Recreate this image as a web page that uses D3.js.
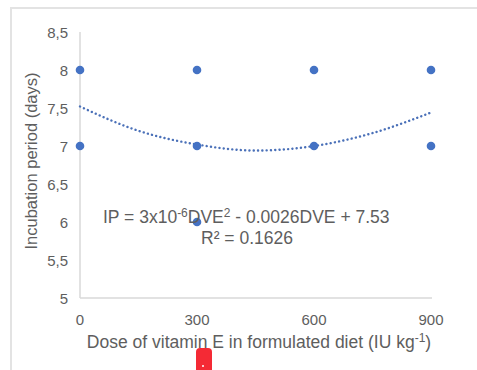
<!DOCTYPE html>
<html>
<head>
  <meta charset="utf-8">
  <script src="https://d3js.org/d3.v7.min.js"></script>
  <title>Incubation period vs vitamin E</title>
  <style>
    body { margin: 0; background: #fff; }
    text { font-family: "Liberation Sans", Arial, sans-serif; fill: #5e5e5e; }
  </style>
</head>
<body>
<div class="chart"></div>
<script>
  // observed points (dose, days)
  var doses = [0, 0, 300, 300, 300, 600, 600, 900, 900];
  var days = [8, 7, 8, 7, 6, 8, 7, 8, 7];

  // polynomial trend line as drawn
  var trendDose = [0, 150, 300, 450, 600, 750, 900];
  var trendDays = [7.52, 7.2, 7.02, 6.94, 7.0, 7.17, 7.44];

  var xTicks = [0, 300, 600, 900];
  var yTicks = [5, 5.5, 6, 6.5, 7, 7.5, 8, 8.5];

  var width = 477, height = 370;

  var svg = d3.select('.chart')
    .append('svg')
    .attr('width', width)
    .attr('height', height);

  // outer frame
  svg.append('path')
    .attr('d', 'M11,' + height + ' V8 H' + width)
    .attr('fill', 'none')
    .attr('stroke', '#e3e3e3')
    .attr('stroke-width', 2);

  var x = d3.scaleLinear().domain([0, 900]).range([80, 431]);
  var y = d3.scaleLinear().domain([5, 8.5]).range([298, 32]);

  // axis lines
  svg.append('line')
    .attr('x1', x(0)).attr('x2', x(0))
    .attr('y1', y(8.5)).attr('y2', y(5))
    .attr('stroke', '#d9d9d9').attr('stroke-width', 1.5);
  svg.append('line')
    .attr('x1', x(0)).attr('x2', x(900) + 1)
    .attr('y1', y(5)).attr('y2', y(5))
    .attr('stroke', '#d9d9d9').attr('stroke-width', 1.5);

  // tick labels
  svg.selectAll('.ytick')
    .data(yTicks)
    .enter()
    .append('text')
    .attr('class', 'ytick')
    .attr('x', 68)
    .attr('y', function(d) { return y(d) + 5.5; })
    .attr('text-anchor', 'end')
    .attr('font-size', 15)
    .text(function(d) { return String(d).replace('.', ','); });

  svg.selectAll('.xtick')
    .data(xTicks)
    .enter()
    .append('text')
    .attr('class', 'xtick')
    .attr('x', function(d) { return x(d); })
    .attr('y', 325)
    .attr('text-anchor', 'middle')
    .attr('font-size', 15)
    .text(function(d) { return d; });

  // axis titles
  var xt = svg.append('text')
    .attr('x', 259)
    .attr('y', 348)
    .attr('text-anchor', 'middle')
    .attr('font-size', 17.5);
  xt.append('tspan').text('Dose of vitamin E in formulated diet (IU kg');
  xt.append('tspan').attr('dy', -6).attr('font-size', 12).text('-1');
  xt.append('tspan').attr('dy', 6).text(')');

  svg.append('text')
    .attr('transform', 'translate(37,161) rotate(-90)')
    .attr('text-anchor', 'middle')
    .attr('font-size', 16.5)
    .text('Incubation period (days)');

  // trend line
  var line = d3.line()
    .x(function(d, i) { return x(trendDose[i]); })
    .y(function(d) { return y(d); })
    .curve(d3.curveMonotoneX);

  svg.append('path')
    .attr('d', line(trendDays))
    .attr('fill', 'none')
    .attr('stroke', '#4a70b8')
    .attr('stroke-width', 2.4)
    .attr('stroke-linecap', 'round')
    .attr('stroke-dasharray', '0.1,4.2');

  // points
  svg.selectAll('circle')
    .data(doses)
    .enter()
    .append('circle')
    .attr('cx', function(d) { return x(d); })
    .attr('cy', function(d, i) { return y(days[i]); })
    .attr('r', 4.3)
    .attr('fill', '#4472c4');

  // equation
  var eq = svg.append('text')
    .attr('x', 103)
    .attr('y', 223)
    .attr('font-size', 17.5);
  eq.append('tspan').text('IP = 3x10');
  eq.append('tspan').attr('dy', -6).attr('font-size', 12).text('-6');
  eq.append('tspan').attr('dy', 6).text('DVE');
  eq.append('tspan').attr('dy', -6).attr('font-size', 12).text('2');
  eq.append('tspan').attr('dy', 6).text(' - 0.0026DVE  + 7.53');

  svg.append('text')
    .attr('x', 201)
    .attr('y', 244)
    .attr('font-size', 17.5)
    .text('R\u00b2 = 0.1626');

  // red marker at the bottom
  svg.append('path')
    .attr('d', 'M196,371 V352 Q196,348 200,348 H208 Q212,348 212,352 V371 Z')
    .attr('fill', '#f42a35');
  svg.append('circle')
    .attr('cx', 203).attr('cy', 366).attr('r', 1)
    .attr('fill', '#fff');
</script>
</body>
</html>
